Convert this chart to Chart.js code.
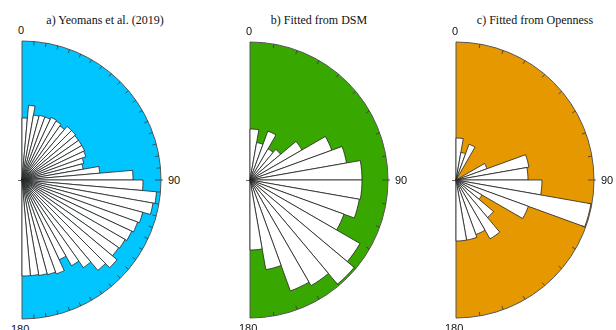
<!DOCTYPE html>
<html lang="en">
<head>
<meta charset="UTF-8">
<title>Lineament orientation roses</title>
<script src="https://cdn.jsdelivr.net/npm/chart.js"></script>
<style>
  body {
    margin: 0;
    width: 616px;
    height: 330px;
    overflow: hidden;
    background: #fff;
    position: relative;
    font-family: 'Liberation Sans', Arial, sans-serif;
  }
  .rose { position: absolute; }
  .title {
    position: absolute;
    top: 13px;
    width: 200px;
    text-align: center;
    font: 12px 'Liberation Serif', 'Times New Roman', serif;
    line-height: 14px;
    color: #111;
    white-space: nowrap;
  }
  .lbl {
    position: absolute;
    font-size: 11px;
    line-height: 12px;
    color: #111;
    white-space: nowrap;
  }
</style>
</head>
<body>
<script>
  // bar lengths per bin, clockwise from 0 (north) to 180, same units as the ring
  const roseA = [62, 75, 66, 67, 67, 69, 68, 66, 70, 70, 69, 69, 69, 68, 64, 62, 78, 111,
                 121, 135, 133, 125, 123, 121, 119, 118, 124, 118, 107, 99, 88, 100, 98, 97, 96, 96];
  const roseB = [51, 38, 52, 36, 40, 60, 87, 98, 112, 112, 111, 100, 127, 136, 122, 118, 91, 70];
  const roseC = [42, 28, 38, 0, 0, 0, 33, 74, 72, 86, 137, 77, 30, 49, 68, 58, 61, 61];

  const binWidths = [5, 10, 10];          // degrees per bar
  const ringValues = [139, 138, 138];     // value of the outer ring
  const titles = ['a) Yeomans et al. (2019)', 'b) Fitted from DSM', 'c) Fitted from Openness'];
  const fills = ['#00C5FF', '#38A800', '#E69800'];
  const axisLabels = ['0', '90', '180'];

  // where each half-circle sits on the page
  const centres = [[22, 180], [250, 180], [456, 180]];
  const titleX = [105, 319, 535];

  const roseTicks = {
    id: 'roseTicks',
    afterDatasetsDraw(chart, args, opts) {
      const s = chart.scales.r;
      const ctx = chart.ctx;
      const R = s.drawingArea;
      ctx.save();
      ctx.strokeStyle = opts.color;
      ctx.lineWidth = 1;
      ctx.beginPath();
      for (let d = opts.step; d < 180; d += opts.step) {
        const a = d * Math.PI / 180;
        const r0 = d === 90 ? R - 6 : R - 4;
        const r1 = d === 90 ? R + 2 : R;
        ctx.moveTo(s.xCenter + Math.sin(a) * r0, s.yCenter - Math.cos(a) * r0);
        ctx.lineTo(s.xCenter + Math.sin(a) * r1, s.yCenter - Math.cos(a) * r1);
      }
      ctx.moveTo(s.xCenter - 4, s.yCenter + 0.5);
      ctx.lineTo(s.xCenter, s.yCenter + 0.5);
      ctx.stroke();
      ctx.restore();
    }
  };

  const roses = [roseA, roseB, roseC];
  const pad = 4;

  roses.forEach((values, i) => {
    const [cx, cy] = centres[i];
    const R = ringValues[i];
    const size = 2 * R + 2 * pad;

    const box = document.createElement('div');
    box.className = 'rose';
    box.style.left = (cx - R - pad) + 'px';
    box.style.top = (cy - R - pad) + 'px';
    box.style.width = size + 'px';
    box.style.height = size + 'px';
    const canvas = document.createElement('canvas');
    box.appendChild(canvas);
    document.body.appendChild(box);

    const step = binWidths[i];
    const labels = values.map((v, k) => (k * step) + '-' + ((k + 1) * step));

    new Chart(canvas, {
      type: 'polarArea',
      data: {
        labels: labels,
        datasets: [
          {
            data: values,
            angle: step,
            backgroundColor: '#ffffff',
            borderColor: '#222',
            borderWidth: 0.8
          },
          {
            data: [R],
            angle: 180,
            backgroundColor: fills[i],
            borderColor: '#555',
            borderWidth: 1
          }
        ]
      },
      options: {
        responsive: true,
        maintainAspectRatio: false,
        animation: false,
        events: [],
        layout: { padding: pad },
        plugins: {
          legend: { display: false },
          tooltip: { enabled: false },
          roseTicks: { step: step, color: 'rgba(50,50,50,0.75)' }
        },
        scales: {
          r: {
            min: 0,
            max: R,
            startAngle: 0,
            grid: { display: false },
            angleLines: { display: false },
            pointLabels: { display: false },
            ticks: { display: false }
          }
        }
      },
      plugins: [roseTicks]
    });

    const t = document.createElement('div');
    t.className = 'title';
    t.textContent = titles[i];
    t.style.left = (titleX[i] - 100) + 'px';
    document.body.appendChild(t);

    const top = document.createElement('div');
    top.className = 'lbl';
    top.textContent = axisLabels[0];
    top.style.left = (cx - 4) + 'px';
    top.style.top = (cy - R - 17) + 'px';
    document.body.appendChild(top);

    const right = document.createElement('div');
    right.className = 'lbl';
    right.textContent = axisLabels[1];
    right.style.left = (cx + R + 7) + 'px';
    right.style.top = (cy - 6) + 'px';
    document.body.appendChild(right);

    const bottom = document.createElement('div');
    bottom.className = 'lbl';
    bottom.textContent = axisLabels[2];
    bottom.style.left = (cx - 11) + 'px';
    bottom.style.top = (cy + R + 4) + 'px';
    document.body.appendChild(bottom);
  });
</script>
</body>
</html>
